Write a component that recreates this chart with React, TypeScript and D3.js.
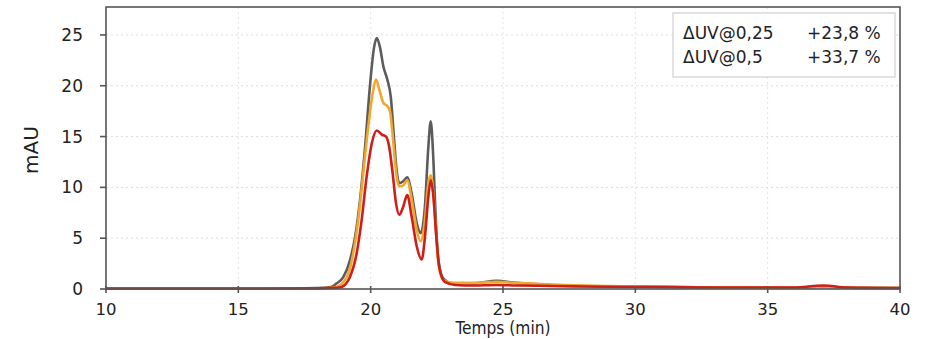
import React from "react";
import * as d3 from "d3";

// Retention time (min) and absorbance (mAU)
const grayTime = [10, 16, 18, 18.5, 18.72, 18.97, 19.22, 19.41, 19.6, 19.79, 19.97, 20.13, 20.23, 20.35, 20.48, 20.63, 20.76, 20.86, 20.98, 21.08, 21.23, 21.38, 21.55, 21.74, 21.89, 22.05, 22.18, 22.27, 22.37, 22.46, 22.56, 22.74, 23.12, 23.88, 24.76, 25.5, 26.8, 28, 30, 33, 36, 37.1, 38, 40];
const grayValue = [0.05, 0.05, 0.1, 0.2, 0.56, 1.2, 2.85, 5.1, 8.8, 14.0, 19.9, 23.8, 24.7, 23.8, 21.9, 20.6, 18.9, 15.6, 11.7, 10.4, 10.6, 11.0, 9.4, 6.5, 5.5, 8.1, 14.0, 16.5, 12.7, 6.8, 2.85, 1.05, 0.56, 0.56, 0.8, 0.6, 0.4, 0.3, 0.25, 0.15, 0.12, 0.2, 0.12, 0.1];

const orangeTime = [10, 16, 18, 18.6, 18.8, 19.16, 19.34, 19.53, 19.72, 19.91, 20.08, 20.2, 20.35, 20.48, 20.63, 20.73, 20.86, 20.98, 21.08, 21.23, 21.38, 21.55, 21.74, 21.89, 22.05, 22.18, 22.27, 22.37, 22.46, 22.56, 22.74, 23.12, 23.88, 24.76, 25.5, 26.8, 28, 30, 33, 36, 37.1, 38, 40];
const orangeValue = [0.05, 0.05, 0.08, 0.15, 0.3, 1.55, 3.5, 6.8, 11.4, 16.0, 19.3, 20.6, 19.4, 18.3, 18.0, 17.5, 14.3, 11.1, 10.1, 10.2, 10.7, 8.8, 5.8, 4.7, 6.8, 10.4, 11.2, 9.4, 6.0, 2.5, 0.9, 0.6, 0.6, 0.7, 0.6, 0.45, 0.35, 0.25, 0.15, 0.12, 0.25, 0.12, 0.1];

const redTime = [10, 16, 18, 18.7, 18.9, 19.22, 19.47, 19.66, 19.85, 20.04, 20.23, 20.42, 20.58, 20.7, 20.83, 20.96, 21.08, 21.23, 21.38, 21.55, 21.74, 21.93, 22.05, 22.18, 22.27, 22.37, 22.47, 22.59, 22.8, 23.2, 23.88, 24.76, 25.5, 26.8, 28, 30, 33, 36, 37.1, 38, 40];
const redValue = [0.05, 0.05, 0.08, 0.12, 0.2, 1.2, 3.5, 6.8, 11.1, 14.3, 15.6, 15.2, 15.0, 14.0, 11.4, 8.4, 7.3, 8.1, 9.25, 7.1, 4.2, 2.9, 5.1, 9.1, 10.7, 9.1, 5.5, 2.2, 0.7, 0.4, 0.35, 0.4, 0.35, 0.3, 0.25, 0.2, 0.15, 0.15, 0.35, 0.15, 0.1];

const xTicks = [10, 15, 20, 25, 30, 35, 40];
const yTicks = [0, 5, 10, 15, 20, 25];
const legendLabels = ["ΔUV@0,25", "ΔUV@0,5"];
const legendValues = ["+23,8 %", "+33,7 %"];

const series = [
  { name: "gray", time: grayTime, value: grayValue, color: "#5c5c5c" },
  { name: "orange", time: orangeTime, value: orangeValue, color: "#f2a62a" },
  { name: "red", time: redTime, value: redValue, color: "#cc1f1a" },
];

export default function App() {
  const width = 941;
  const height = 339;
  const left = 106;
  const right = 900;
  const top = 7;
  const bottom = 289;
  const x = d3.scaleLinear().domain([10, 40]).range([left, right]);
  const y = d3.scaleLinear().domain([0, 27.75]).range([bottom, top]);
  const font = "'DejaVu Sans', sans-serif";

  const line = d3
    .line<[number, number]>()
    .x((d) => x(d[0]))
    .y((d) => y(d[1]))
    .curve(d3.curveMonotoneX);

  return (
    <svg
      width={width}
      height={height}
      style={{ position: "absolute", left: 0, top: 0, background: "#fff" }}
    >
      <rect x={0} y={0} width={width} height={height} fill="#fff" />
      {/* grid */}
      {yTicks.filter((t) => t > 0).map((t) => (
        <line key={"gy" + t} x1={left} x2={right} y1={y(t)} y2={y(t)} stroke="#dcdcdc" strokeWidth={1} strokeDasharray="2,3" />
      ))}
      {xTicks.filter((t) => t > 10 && t < 40).map((t) => (
        <line key={"gx" + t} x1={x(t)} x2={x(t)} y1={top} y2={bottom} stroke="#e2e2e2" strokeWidth={1} strokeDasharray="2,3" />
      ))}
      {/* series */}
      {series.map((s) => (
        <path
          key={s.name}
          d={line(s.time.map((t, i) => [t, s.value[i]] as [number, number])) || ""}
          fill="none"
          stroke={s.color}
          strokeWidth={2.6}
          strokeLinejoin="round"
        />
      ))}
      {/* frame */}
      <rect x={left} y={top} width={right - left} height={bottom - top} fill="none" stroke="#555" strokeWidth={1.6} />
      {/* y ticks */}
      {yTicks.map((t) => (
        <g key={"yt" + t}>
          <line x1={left - 6} x2={left} y1={y(t)} y2={y(t)} stroke="#555" strokeWidth={1.6} />
          <text x={83} y={y(t)} dy="0.36em" textAnchor="end" fontFamily={font} fontSize={17} fill="#222">
            {t}
          </text>
        </g>
      ))}
      {/* x ticks */}
      {xTicks.map((t) => (
        <g key={"xt" + t}>
          <line x1={x(t)} x2={x(t)} y1={bottom - 3} y2={bottom + 4} stroke="#555" strokeWidth={1.6} />
          <text x={x(t)} y={315} textAnchor="middle" fontFamily={font} fontSize={16.5} fill="#222">
            {t}
          </text>
        </g>
      ))}
      <text
        x={(left + right) / 2}
        y={334}
        textAnchor="middle"
        fontFamily="'DejaVu Sans Condensed', 'DejaVu Sans', sans-serif"
        fontSize={17}
        textLength={95}
        lengthAdjust="spacingAndGlyphs"
        fill="#222"
      >
        Temps (min)
      </text>
      <text
        transform={`translate(38, ${150}) rotate(-90)`}
        textAnchor="middle"
        fontFamily={font}
        fontSize={20}
        fill="#222"
      >
        mAU
      </text>
      {/* legend */}
      <rect x={673} y={13} width={222} height={64} fill="#fff" stroke="#cfcfcf" strokeWidth={1.2} />
      {legendLabels.map((l, i) => (
        <g key={l}>
          <text x={683} y={39 + i * 23.5} fontFamily={font} fontSize={17} fill="#222">
            {l}
          </text>
          <text x={807} y={39 + i * 23.5} fontFamily={font} fontSize={17} fill="#222">
            {legendValues[i]}
          </text>
        </g>
      ))}
    </svg>
  );
}
